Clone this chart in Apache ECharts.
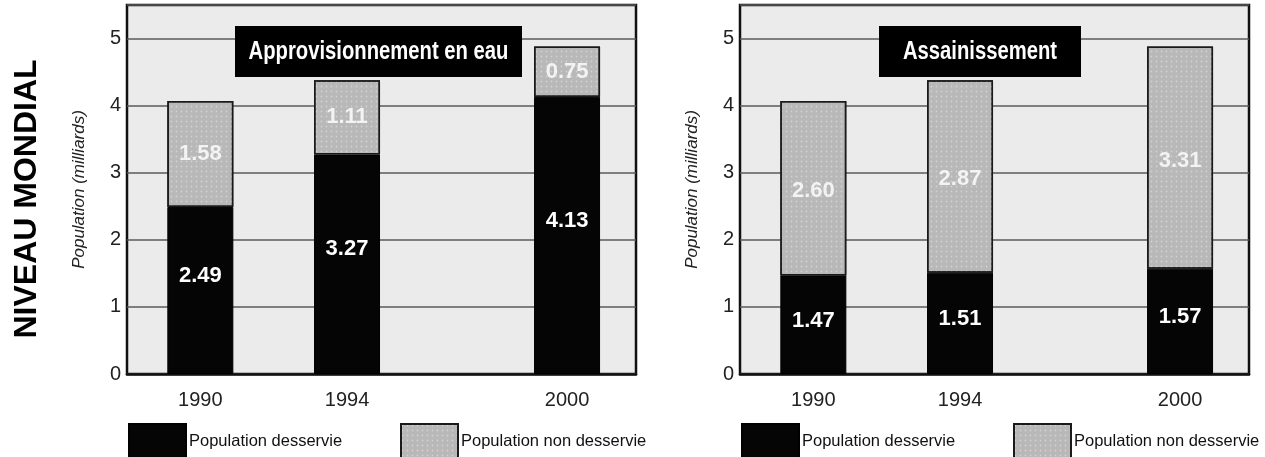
<!DOCTYPE html>
<html>
<head>
<meta charset="utf-8">
<script src="https://cdn.jsdelivr.net/npm/echarts@6/dist/echarts.min.js"></script>
<style>
html,body{margin:0;padding:0;background:#fff;}
#main{width:1265px;height:457px;}
</style>
</head>
<body>
<div id="main"></div>
<script>
// ---- data ----
const YEARS = [1990, 1994, 2000];
const WATER_SERVED = [2.49, 3.27, 4.13];
const WATER_UNSERVED = [1.58, 1.11, 0.75];
const SANIT_SERVED = [1.47, 1.51, 1.57];
const SANIT_UNSERVED = [2.60, 2.87, 3.31];
const Y_TICKS = [0, 1, 2, 3, 4, 5];
const SERIES_NAMES = ['Population desservie', 'Population non desservie'];
const CHART_TITLES = ['Approvisionnement en eau', 'Assainissement'];
const SIDE_TITLE = 'NIVEAU MONDIAL';
const Y_NAME = 'Population (milliards)';

function hasFont(f) {
  const c = document.createElement('canvas').getContext('2d');
  const s = 'Population 1990 abcdefghijklm';
  c.font = '40px monospace';
  const a = c.measureText(s).width;
  c.font = "40px '" + f + "', monospace";
  return Math.abs(c.measureText(s).width - a) > 0.5;
}
const NARROW_OK = hasFont('Liberation Sans Narrow');
const FF = NARROW_OK ? "'Liberation Sans Narrow', 'Liberation Sans', sans-serif" : "'Liberation Sans', Arial, sans-serif";
const FS_TICK = NARROW_OK ? 23 : 20;
const FS_LEG = NARROW_OK ? 20 : 16.5;
const FS_YNAME = NARROW_OK ? 20 : 17;

const chart = echarts.init(document.getElementById('main'), null, {renderer: 'canvas'});

const GRIDS = [
  {left: 127, top: 5, width: 509, height: 369},
  {left: 740, top: 5, width: 509, height: 369}
];

// rows are [population, year]; encode maps year to x, population (stacked) to y
function rows(vals) { return YEARS.map((y, i) => [vals[i], y]); }

const blackStyle = {color: '#050505', borderColor: '#000', borderWidth: 1};
const greyStyle = {
  color: '#b8b8b8', borderColor: '#1a1a1a', borderWidth: 1.5,
  decal: {symbol: 'circle', symbolSize: 0.6, dashArrayX: [3, 2], dashArrayY: [3, 2], color: 'rgba(255,255,255,0.35)'}
};
const labelBase = {
  show: true, position: 'inside', fontFamily: "'Liberation Sans', Arial, sans-serif",
  fontWeight: 'bold', fontSize: 22,
  formatter: p => p.value[0].toFixed(2)
};

function makeSeries(gi, served, unserved, offBlack, offGrey) {
  return [
    {name: SERIES_NAMES[0], type: 'bar', xAxisIndex: gi, yAxisIndex: gi, stack: 's' + gi,
     encode: {x: 1, y: 0}, barWidth: 66, data: rows(served), itemStyle: blackStyle,
     label: Object.assign({}, labelBase, {color: '#ffffff', offset: offBlack})},
    {name: SERIES_NAMES[1], type: 'bar', xAxisIndex: gi, yAxisIndex: gi, stack: 's' + gi,
     encode: {x: 1, y: 0}, barWidth: 66, data: rows(unserved), itemStyle: greyStyle,
     label: Object.assign({}, labelBase, {color: 'rgba(250,250,250,0.88)', offset: offGrey})}
  ];
}

function xAxis(gi) {
  return {
    gridIndex: gi, type: 'value', min: 1988, max: 2001.88, interval: 1,
    axisLine: {show: true, lineStyle: {color: '#111', width: 2.5}},
    axisTick: {show: false}, splitLine: {show: false},
    axisLabel: {formatter: v => YEARS.includes(v) ? String(v) : '', margin: 16,
      fontFamily: FF, fontSize: FS_TICK, color: '#222'}
  };
}
function yAxis(gi) {
  return {
    gridIndex: gi, type: 'value', min: 0, max: 5.5, interval: 1,
    name: Y_NAME, nameLocation: 'middle', nameGap: 39,
    nameTextStyle: {fontFamily: FF, fontStyle: 'italic', fontSize: FS_YNAME, color: '#222'},
    axisLine: {show: false}, axisTick: {show: false},
    axisLabel: {formatter: v => Y_TICKS.includes(v) ? String(v) : '', margin: 6,
      fontFamily: FF, fontSize: FS_TICK, color: '#222'},
    splitLine: {show: true, lineStyle: {color: '#5a5a5a', width: 1.5}}
  };
}

function legend(name, left) {
  return {data: [name], left: left, top: 423, itemWidth: 57, itemHeight: 34, icon: 'rect',
    selectedMode: false, padding: 0, itemGap: 0,
    textStyle: {fontFamily: FF, fontSize: FS_LEG, color: '#111', padding: [0, 0, 0, -2]}};
}

function titleBox(text, x, y, w, h) {
  return {type: 'group', children: [
    {type: 'rect', shape: {x: x, y: y, width: w, height: h}, style: {fill: '#000'}, z: 10},
    {type: 'text', x: x + w / 2, y: y + h / 2 + 1, scaleX: 0.81, z: 11,
     style: {text: text, fill: '#fff', font: "bold 25px 'Liberation Sans', Arial, sans-serif",
       align: 'center', verticalAlign: 'middle'}}
  ]};
}

const option = {
  backgroundColor: '#ffffff',
  animation: false,
  grid: GRIDS.map(g => Object.assign({show: true, backgroundColor: '#ebebeb', borderColor: '#111', borderWidth: 2.5, containLabel: false}, g)),
  xAxis: [xAxis(0), xAxis(1)],
  yAxis: [yAxis(0), yAxis(1)],
  legend: [
    legend(SERIES_NAMES[0], 128), legend(SERIES_NAMES[1], 400),
    legend(SERIES_NAMES[0], 741), legend(SERIES_NAMES[1], 1013)
  ],
  series: [].concat(
    makeSeries(0, WATER_SERVED, WATER_UNSERVED, [0, -15], [0, 0]),
    makeSeries(1, SANIT_SERVED, SANIT_UNSERVED, [0, -4], [0, 3])
  ),
  graphic: [
    {type: 'text', x: 27, y: 199, rotation: Math.PI / 2,
     style: {text: SIDE_TITLE, fill: '#000', font: "bold 32px 'Liberation Sans', Arial, sans-serif",
       align: 'center', verticalAlign: 'middle'}},
    titleBox(CHART_TITLES[0], 235, 26, 287, 51),
    titleBox(CHART_TITLES[1], 879, 26, 202, 51)
  ]
};
chart.setOption(option);
</script>
</body>
</html>
